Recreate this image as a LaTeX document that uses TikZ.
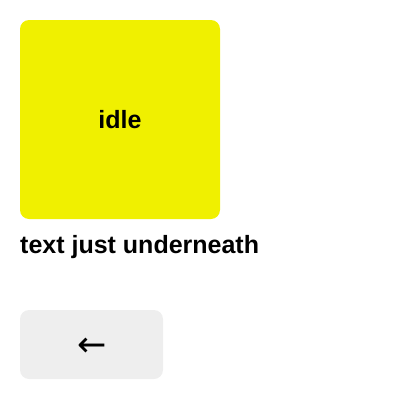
\documentclass[tikz,border=0pt]{standalone}
\usepackage{fontspec}
\setmainfont{Liberation Sans}
\newfontfamily\arrowfont{DejaVu Sans}
\definecolor{idleyellow}{RGB}{240,240,0}
\definecolor{btngray}{RGB}{238,238,238}
\tikzset{
  statebox/.style={fill=idleyellow, rounded corners=9pt, minimum width=200pt, minimum height=199pt, inner sep=0pt, font=\fontsize{25}{28}\selectfont\bfseries},
  btnbox/.style={fill=btngray, rounded corners=9pt, minimum width=143pt, minimum height=69pt, inner sep=0pt},
  caption/.style={anchor=base west, inner sep=0pt, font=\fontsize{25}{28}\selectfont\bfseries},
  arrowlabel/.style={inner sep=0pt, font=\fontsize{35}{36}\arrowfont}
}
\begin{document}
\begin{tikzpicture}[x=1pt, y=-1pt]
\useasboundingbox (0,0) rectangle (400,400);
\node[statebox] (idle) at (120,119.5) {idle};
\node[caption] (under) at (20,253) {text just underneath};
\node[btnbox] (back) at (91.5,344.5) {};
\node[arrowlabel] (backarrow) at (92,347) {←};
\end{tikzpicture}
\end{document}
